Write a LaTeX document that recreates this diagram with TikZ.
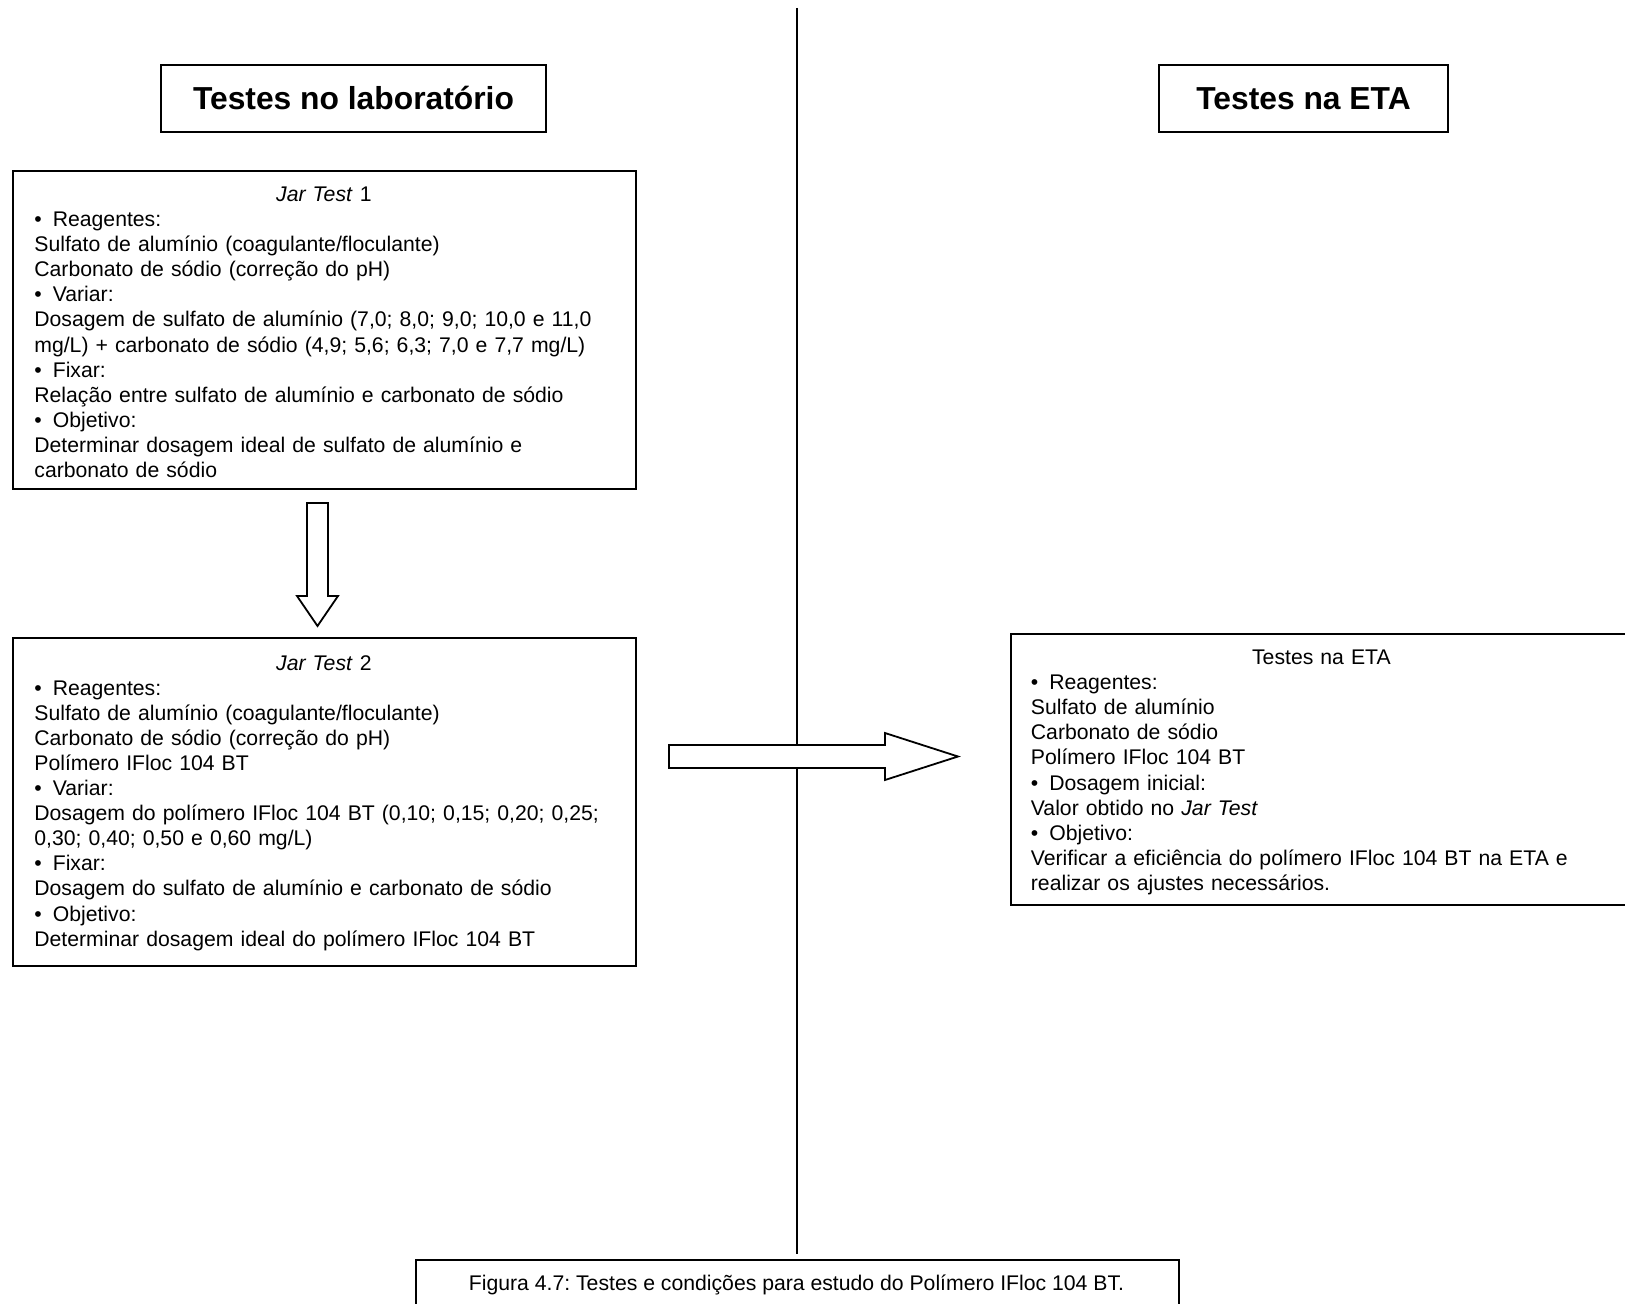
\documentclass[tikz,border=0pt]{standalone}
\usepackage{fontspec}
\setmainfont{Liberation Sans}
\frenchspacing
\newcommand\mybul{\textbullet\hspace{5.5pt}}
\begin{document}
\begin{tikzpicture}[x=0.5pt,y=-0.5pt,
  box/.style={draw, line width=0.9pt, inner sep=0pt, anchor=north west},
  body/.style={font=\fontsize{10.6}{12.55}\selectfont, align=left, text width=#1, inner sep=0pt, anchor=base west},
  titlefont/.style={font=\fontsize{15.9}{19}\selectfont\bfseries},
  blockarrow/.style={draw, line width=0.9pt, fill=white, line join=miter}
]
\clip (0,0) rectangle (1625,1304);
\fill[white] (0,0) rectangle (1625,1304);
% dividing line
\coordinate (vtop) at (797,8);
\coordinate (vbot) at (797,1254);
\draw[line width=0.75pt] (vtop) -- (vbot);

% titles
\node[box, anchor=center, minimum width=192.5pt, minimum height=33.5pt, titlefont] (labL) at (353.5,98.5) {Testes no laboratório};
\node[box, anchor=center, minimum width=144.5pt, minimum height=33.5pt, titlefont] (labR) at (1303.5,98.5) {Testes na ETA};

% Jar Test 1
\node[box, minimum width=311.5pt, minimum height=159pt] (jt1) at (12,170) {};
\node[body=289.5pt] (jt1t) at (34,201.5) {\makebox[\linewidth]{\textit{Jar Test} 1}\\
\mybul Reagentes:\\
Sulfato de alumínio (coagulante/floculante)\\
Carbonato de sódio (correção do pH)\\
\mybul Variar:\\
Dosagem de sulfato de alumínio (7,0; 8,0; 9,0; 10,0 e 11,0\\
mg/L) + carbonato de sódio (4,9; 5,6; 6,3; 7,0 e 7,7 mg/L)\\
\mybul Fixar:\\
Relação entre sulfato de alumínio e carbonato de sódio\\
\mybul Objetivo:\\
Determinar dosagem ideal de sulfato de alumínio e\\
carbonato de sódio};

% down block arrow
\draw[blockarrow] (307,503) -- (328,503) -- (328,596) -- (338,596) -- (317.5,626) -- (297,596) -- (307,596) -- cycle;

% Jar Test 2
\node[box, minimum width=311.5pt, minimum height=164pt] (jt2) at (12,637) {};
\node[body=289.5pt] (jt2t) at (34,670) {\makebox[\linewidth]{\textit{Jar Test} 2}\\
\mybul Reagentes:\\
Sulfato de alumínio (coagulante/floculante)\\
Carbonato de sódio (correção do pH)\\
Polímero IFloc 104 BT\\
\mybul Variar:\\
Dosagem do polímero IFloc 104 BT (0,10; 0,15; 0,20; 0,25;\\
0,30; 0,40; 0,50 e 0,60 mg/L)\\
\mybul Fixar:\\
Dosagem do sulfato de alumínio e carbonato de sódio\\
\mybul Objetivo:\\
Determinar dosagem ideal do polímero IFloc 104 BT};

% right block arrow
\draw[blockarrow] (669,745) -- (885,745) -- (885,733) -- (958,756.5) -- (885,780) -- (885,768) -- (669,768) -- cycle;

% Testes na ETA
\node[box, minimum width=311pt, minimum height=135.5pt] (eta) at (1010,633) {};
\node[body=290.5pt] (etat) at (1030.5,664.5) {\makebox[\linewidth]{Testes na ETA}\\
\mybul Reagentes:\\
Sulfato de alumínio\\
Carbonato de sódio\\
Polímero IFloc 104 BT\\
\mybul Dosagem inicial:\\
Valor obtido no \textit{Jar Test}\\
\mybul Objetivo:\\
Verificar a eficiência do polímero IFloc 104 BT na ETA e\\
realizar os ajustes necessários.};

% caption
\node[box, minimum width=381.5pt, minimum height=35pt] (cap) at (415,1259) {};
\node[font=\fontsize{10.6}{12.55}\selectfont, inner sep=0pt, anchor=base] (capt) at (796.5,1290) {Figura 4.7: Testes e condições para estudo do Polímero IFloc 104 BT.};
\end{tikzpicture}
\end{document}
